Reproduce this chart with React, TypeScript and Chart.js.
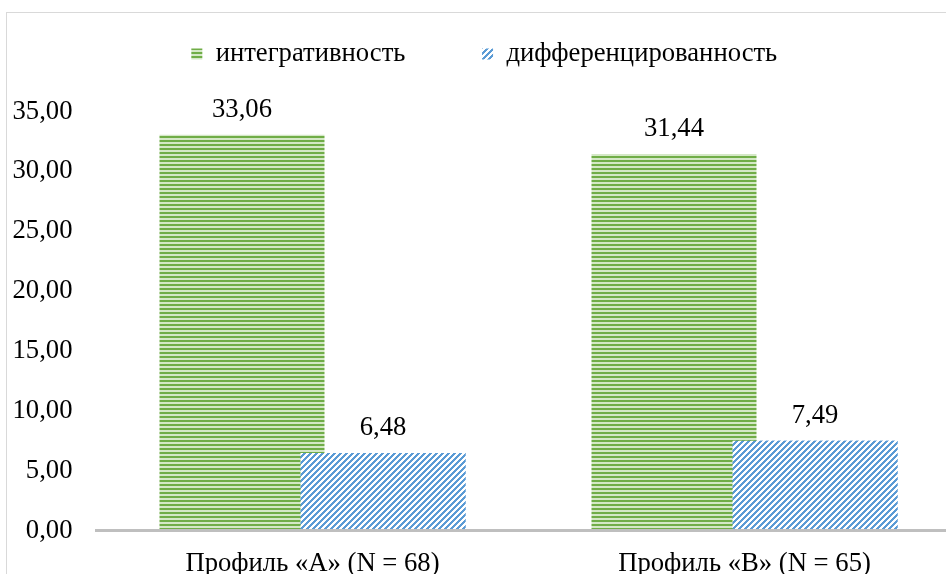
import React, { useEffect, useRef } from 'react';
import { Chart, registerables } from 'chart.js';

Chart.register(...registerables);

// ---- data ----
const categories: string[] = ['Профиль «А» (N = 68)', 'Профиль «В» (N = 65)'];
const seriesNames: string[] = ['интегративность', 'дифференцированность'];
const integrativity: number[] = [33.06, 31.44];
const differentiation: number[] = [6.48, 7.49];
const yMin = 0;
const yMax = 35;
const yStep = 5;

const FONT = "'Times New Roman', 'Liberation Serif', serif";
const FS = 26.67;
const fmt = (v: number) => v.toFixed(2).replace('.', ',');

function makeHorizontalStripes(): CanvasPattern | string {
  const c = document.createElement('canvas');
  c.width = 4;
  c.height = 4;
  const g = c.getContext('2d');
  if (!g) return '#70ad47';
  g.fillStyle = '#d4e8c6';
  g.fillRect(0, 0, 4, 4);
  g.fillStyle = '#70ad47';
  g.fillRect(0, 0, 4, 2);
  return g.createPattern(c, 'repeat') || '#70ad47';
}

function makeUpwardDiagonal(): CanvasPattern | string {
  const n = 6;
  const c = document.createElement('canvas');
  c.width = n;
  c.height = n;
  const g = c.getContext('2d');
  if (!g) return '#5b9bd5';
  for (let x = 0; x < n; x++) {
    for (let y = 0; y < n; y++) {
      g.fillStyle = (x + y) % n < 3 ? '#5b9bd5' : '#ffffff';
      g.fillRect(x, y, 1, 1);
    }
  }
  return g.createPattern(c, 'repeat') || '#5b9bd5';
}

const legendSpacer = {
  id: 'legendSpacer',
  afterInit(chart: any) {
    const legend = chart.legend;
    if (!legend) return;
    const origFit = legend.fit.bind(legend);
    legend.fit = function () {
      origFit();
      this.height = 147.5;
    };
  },
};

const frontSeries = {
  id: 'frontSeries',
  afterDatasetsDraw(chart: any) {
    const meta = chart.getDatasetMeta(1);
    if (meta && meta.controller) meta.controller.draw();
  },
};

const dataLabels = {
  id: 'dataLabels',
  afterDatasetsDraw(chart: any) {
    const ctx = chart.ctx;
    ctx.save();
    ctx.font = `${FS}px ${FONT}`;
    ctx.fillStyle = '#000';
    ctx.textAlign = 'center';
    ctx.textBaseline = 'middle';
    chart.data.datasets.forEach((ds: any, i: number) => {
      const meta = chart.getDatasetMeta(i);
      meta.data.forEach((el: any, j: number) => {
        ctx.fillText(fmt(ds.data[j] as number), el.x, el.y - 25);
      });
    });
    ctx.restore();
  },
};

export default function App() {
  const ref = useRef<HTMLCanvasElement | null>(null);

  useEffect(() => {
    if (!ref.current) return;
    const chart = new Chart(ref.current, {
      type: 'bar',
      data: {
        labels: categories,
        datasets: [
          {
            label: seriesNames[0],
            data: integrativity,
            backgroundColor: makeHorizontalStripes() as any,
            borderWidth: 0,
          },
          {
            label: seriesNames[1],
            data: differentiation,
            backgroundColor: makeUpwardDiagonal() as any,
            borderWidth: 0,
          },
        ],
      },
      options: {
        responsive: false,
        animation: false,
        events: [],
        categoryPercentage: 0.6528,
        barPercentage: 1.1702,
        layout: { padding: { left: 8.1, right: 39.5, top: 0, bottom: 0 } },
        plugins: {
          legend: {
            position: 'top',
            labels: {
              boxWidth: 11,
              boxHeight: 11,
              padding: 76.6,
              color: '#000',
              font: { family: FONT, size: FS },
            },
          },
          tooltip: { enabled: false },
          title: { display: false },
        },
        scales: {
          x: {
            grid: { display: false, drawTicks: false },
            border: { display: true, color: '#bfbfbf', width: 3, z: 1 },
            ticks: {
              color: '#000',
              padding: 17,
              maxRotation: 0,
              font: { family: FONT, size: FS },
            },
            afterFit(scale: any) {
              scale.height = 73.5;
            },
          },
          y: {
            min: yMin,
            max: yMax,
            grid: { display: false, drawTicks: false },
            border: { display: false },
            ticks: {
              stepSize: yStep,
              color: '#000',
              padding: 24,
              font: { family: FONT, size: FS },
              callback: (v: any) => fmt(Number(v)),
            },
            afterFit(scale: any) {
              scale.width = 88.4;
            },
          },
        },
      },
      plugins: [legendSpacer, frontSeries, dataLabels],
    });
    return () => chart.destroy();
  }, []);

  return (
    <div
      style={{
        position: 'absolute',
        left: 0,
        top: 0,
        width: 946,
        height: 574,
        overflow: 'hidden',
        background: '#fff',
      }}
    >
      <div
        style={{
          position: 'absolute',
          left: 6,
          top: 12,
          width: 1200,
          height: 800,
          border: '1px solid #d9d9d9',
        }}
      />
      <canvas
        ref={ref}
        width={1000}
        height={640}
        style={{ position: 'absolute', left: 0, top: -36, width: 1000, height: 640 }}
      />
    </div>
  );
}
